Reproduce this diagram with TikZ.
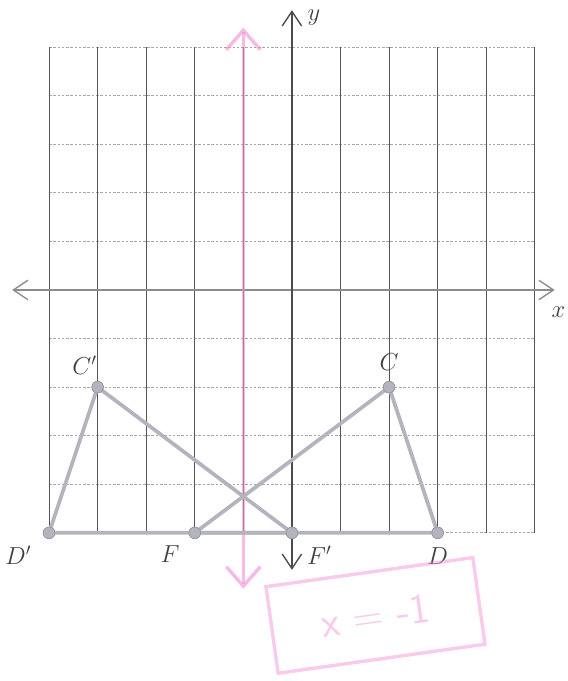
\documentclass[tikz,border=0pt]{standalone}
\usepackage{xcolor}
\usepackage{tikz}
\usetikzlibrary{arrows.meta, positioning}
\definecolor{gridgray}{HTML}{555555}
\definecolor{trigray}{HTML}{B4B4BE}
\definecolor{mirpink}{HTML}{F08CD2}

\tikzset{
    pt/.style={circle, fill=trigray, draw=trigray!80!black, line width=0.3pt, inner sep=0pt, minimum size=2.4mm},
    lbl/.style={font=\Large, text=black!75},
    side/.style={trigray, line width=2.2pt, line cap=round},
    axis/.style={black!70, line width=0.8pt, {Straight Barb[length=3mm, width=4mm]}-{Straight Barb[length=3mm, width=4mm]}}
}

\begin{document}
\begin{tikzpicture}
    \useasboundingbox (-6.01,-8.05) rectangle (5.68,5.97);
    % grid
    \foreach \y in {-5,...,5}
        \draw[black!35, line width=0.5pt, dash pattern=on 1.5pt off 1pt] (-5,\y) -- (5,\y);
    \foreach \x in {-5,...,5}
        \draw[gridgray, line width=0.6pt] (\x,-5) -- (\x,5);

    % axes
    \coordinate (xl) at (-5.76,0);
    \coordinate (xr) at (5.41,0);
    \coordinate (yt) at (0,5.76);
    \coordinate (yb) at (0,-5.76);
    \draw[axis, black!45] (xl) -- (xr);
    \draw[axis] (yb) -- (yt);
    \node[lbl, anchor=west] (ylab) at (0.2,5.6) {$y$};
    \node[lbl, anchor=east, inner sep=1pt] (xlab) at (5.67,-0.45) {$x$};

    % mirror line
    \coordinate (mt) at (-1,5.4);
    \coordinate (mb) at (-1,-6.15);
    \draw[mirpink, opacity=0.6, line width=2pt, {Straight Barb[length=4mm, width=7mm]}-{Straight Barb[length=4mm, width=7mm]}] (mb) -- (mt);

    % points
    \node[pt] (C) at (2,-2) {};
    \node[pt] (D) at (3,-5) {};
    \node[pt] (F) at (-2,-5) {};
    \node[pt] (Cp) at (-4,-2) {};
    \node[pt] (Dp) at (-5,-5) {};
    \node[pt] (Fp) at (0,-5) {};

    % triangles
    \draw[side] (C.center) -- (D.center) -- (F.center) -- cycle;
    \draw[side] (Cp.center) -- (Dp.center) -- (Fp.center) -- cycle;
    \node[pt] at (C) {};
    \node[pt] at (D) {};
    \node[pt] at (F) {};
    \node[pt] at (Cp) {};
    \node[pt] at (Dp) {};
    \node[pt] at (Fp) {};

    \node[lbl, above=1mm of C] {$C$};
    \node[lbl, above left=0.5mm and -2mm of Cp] {$C'$};
    \node[lbl, below=0.5mm of D] {$D$};
    \node[lbl, below left=0.5mm and 1.5mm of Dp] {$D'$};
    \node[lbl, below left=0.5mm and 1mm of F] {$F$};
    \node[lbl, below right=0.5mm and 1mm of Fp] {$F'$};

    % note
    \node[draw=mirpink, line width=2pt, opacity=0.45, text=mirpink, rotate=8,
          minimum width=4.3cm, minimum height=1.8cm, font=\Huge\sffamily] (note) at (1.72,-6.7) {x = -1};
\end{tikzpicture}
\end{document}
